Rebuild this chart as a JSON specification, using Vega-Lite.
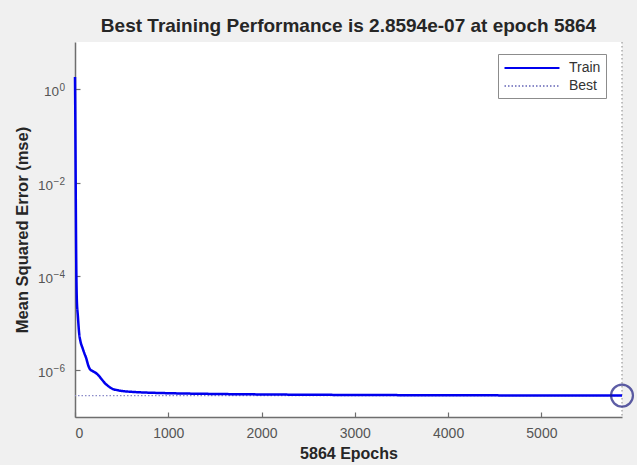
{
  "$schema": "https://vega.github.io/schema/vega-lite/v6.json",
  "autosize": "none",
  "width": 547,
  "height": 375,
  "padding": {"left": 75, "top": 42, "right": 15, "bottom": 48},
  "background": "#f0f0f0",
  "config": {
    "font": "Liberation Sans",
    "view": {"fill": "white", "stroke": null},
    "axis": {
      "grid": false,
      "domainColor": "#6e6e6e",
      "domainWidth": 1.5,
      "tickColor": "#6e6e6e",
      "tickSize": -5,
      "tickWidth": 1.2,
      "labelColor": "#555555",
      "labelFont": "Liberation Sans",
      "titleFont": "Liberation Sans",
      "titleColor": "#262626",
      "titleFontWeight": "bold"
    }
  },
  "title": {
    "text": "Best Training Performance is 2.8594e-07 at epoch 5864",
    "font": "Liberation Sans",
    "fontSize": 19,
    "fontWeight": "bold",
    "color": "#262626",
    "anchor": "middle",
    "offset": 5
  },
  "datasets": {
    "train": [
      {"epoch": 0, "mse": 1.8, "series": "Train"},
      {"epoch": 3, "mse": 0.3, "series": "Train"},
      {"epoch": 6, "mse": 0.03, "series": "Train"},
      {"epoch": 9, "mse": 0.003, "series": "Train"},
      {"epoch": 12, "mse": 0.0004, "series": "Train"},
      {"epoch": 15, "mse": 0.0001, "series": "Train"},
      {"epoch": 20, "mse": 0.00003, "series": "Train"},
      {"epoch": 30, "mse": 0.000015, "series": "Train"},
      {"epoch": 45, "mse": 0.000006, "series": "Train"},
      {"epoch": 60, "mse": 0.000004, "series": "Train"},
      {"epoch": 80, "mse": 0.000003, "series": "Train"},
      {"epoch": 100, "mse": 0.0000023, "series": "Train"},
      {"epoch": 120, "mse": 0.0000018, "series": "Train"},
      {"epoch": 140, "mse": 0.0000013, "series": "Train"},
      {"epoch": 160, "mse": 0.00000105, "series": "Train"},
      {"epoch": 190, "mse": 0.00000095, "series": "Train"},
      {"epoch": 220, "mse": 0.00000088, "series": "Train"},
      {"epoch": 250, "mse": 0.00000078, "series": "Train"},
      {"epoch": 280, "mse": 0.00000066, "series": "Train"},
      {"epoch": 320, "mse": 0.00000053, "series": "Train"},
      {"epoch": 360, "mse": 0.00000045, "series": "Train"},
      {"epoch": 400, "mse": 0.0000004, "series": "Train"},
      {"epoch": 450, "mse": 0.000000375, "series": "Train"},
      {"epoch": 500, "mse": 0.00000036, "series": "Train"},
      {"epoch": 600, "mse": 0.000000345, "series": "Train"},
      {"epoch": 800, "mse": 0.00000033, "series": "Train"},
      {"epoch": 1000, "mse": 0.000000322, "series": "Train"},
      {"epoch": 1500, "mse": 0.00000031, "series": "Train"},
      {"epoch": 2000, "mse": 0.000000303, "series": "Train"},
      {"epoch": 3000, "mse": 0.000000295, "series": "Train"},
      {"epoch": 4000, "mse": 0.000000291, "series": "Train"},
      {"epoch": 5000, "mse": 0.000000288, "series": "Train"},
      {"epoch": 5864, "mse": 0.00000028594, "series": "Train"}
    ],
    "best": [
      {"epoch": 5864, "mse": 0.00000028594, "series": "Best"}
    ],
    "decades": [
      {"at": 0, "mse": 1, "base": "10", "exponent": "0"},
      {"at": 0, "mse": 0.01, "base": "10", "exponent": "−2"},
      {"at": 0, "mse": 0.0001, "base": "10", "exponent": "−4"},
      {"at": 0, "mse": 0.000001, "base": "10", "exponent": "−6"}
    ]
  },
  "encoding": {
    "x": {
      "field": "epoch",
      "type": "quantitative",
      "scale": {"domain": [0, 5864], "nice": false, "zero": false},
      "axis": {
        "title": "5864 Epochs",
        "titleFontSize": 16,
        "titlePadding": 5,
        "values": [0, 1000, 2000, 3000, 4000, 5000],
        "labelFontSize": 14,
        "labelPadding": 14,
        "format": "d"
      }
    },
    "y": {
      "field": "mse",
      "type": "quantitative",
      "scale": {"type": "log", "domain": [1e-7, 10], "nice": false},
      "axis": {
        "title": "Mean Squared Error  (mse)",
        "titleFontSize": 16.5,
        "titlePadding": 44,
        "values": [1, 0.01, 0.0001, 0.000001],
        "labels": false
      }
    }
  },
  "layer": [
    {
      "data": {"name": "best"},
      "mark": {"type": "rule", "strokeDash": [1.5, 2.5], "strokeWidth": 1.2, "color": "#9a9a9a"},
      "encoding": {"y": null}
    },
    {
      "data": {"name": "best"},
      "mark": {"type": "rule", "strokeWidth": 1.3},
      "encoding": {
        "x": null,
        "color": {"field": "series", "type": "nominal"},
        "strokeDash": {"field": "series", "type": "nominal"}
      }
    },
    {
      "data": {"name": "train"},
      "mark": {"type": "line", "strokeWidth": 2.5, "interpolate": "monotone"},
      "encoding": {
        "color": {
          "field": "series",
          "type": "nominal",
          "scale": {"domain": ["Train", "Best"], "range": ["#0000ee", "#8a8ac8"]},
          "legend": {
            "title": null,
            "orient": "none",
            "legendX": 423,
            "legendY": 12,
            "fillColor": "white",
            "strokeColor": "#8c8c8c",
            "padding": 5,
            "symbolType": "M-1,0H6.33",
            "symbolSize": 225,
            "symbolStrokeWidth": 2.2,
            "labelOffset": 48,
            "labelFontSize": 14,
            "labelColor": "#333333",
            "labelFont": "Liberation Sans",
            "rowPadding": 2
          }
        },
        "strokeDash": {
          "field": "series",
          "type": "nominal",
          "scale": {"domain": ["Train", "Best"], "range": [[1, 0], [1.5, 2]]},
          "legend": {
            "title": null,
            "orient": "none",
            "legendX": 423,
            "legendY": 12,
            "fillColor": "white",
            "strokeColor": "#8c8c8c",
            "padding": 5,
            "symbolType": "M-1,0H6.33",
            "symbolSize": 225,
            "symbolStrokeWidth": 2.2,
            "labelOffset": 48,
            "labelFontSize": 14,
            "labelColor": "#333333",
            "labelFont": "Liberation Sans",
            "rowPadding": 2
          }
        }
      }
    },
    {
      "data": {"name": "best"},
      "mark": {"type": "point", "shape": "circle", "filled": false, "size": 480, "strokeWidth": 2.2, "color": "#1a1a80", "clip": false}
    },
    {
      "data": {"name": "decades"},
      "transform": [{"filter": "datum.mse > 0.5"}],
      "mark": {"type": "text", "align": "right", "baseline": "middle", "dx": -16, "dy": 3, "fontSize": 13.5, "color": "#555555", "font": "Liberation Sans"},
      "encoding": {
        "x": {"field": "at", "type": "quantitative"},
        "y": {"field": "mse", "type": "quantitative"},
        "text": {"field": "base", "type": "nominal"}
      }
    },
    {
      "data": {"name": "decades"},
      "transform": [{"filter": "datum.mse < 0.5"}],
      "mark": {"type": "text", "align": "right", "baseline": "middle", "dx": -22, "dy": 3, "fontSize": 13.5, "color": "#555555", "font": "Liberation Sans"},
      "encoding": {
        "x": {"field": "at", "type": "quantitative"},
        "y": {"field": "mse", "type": "quantitative"},
        "text": {"field": "base", "type": "nominal"}
      }
    },
    {
      "data": {"name": "decades"},
      "mark": {"type": "text", "align": "right", "baseline": "alphabetic", "dx": -10, "dy": 2, "fontSize": 10, "color": "#555555", "font": "Liberation Sans"},
      "encoding": {
        "x": {"field": "at", "type": "quantitative"},
        "y": {"field": "mse", "type": "quantitative"},
        "text": {"field": "exponent", "type": "nominal"}
      }
    }
  ]
}
